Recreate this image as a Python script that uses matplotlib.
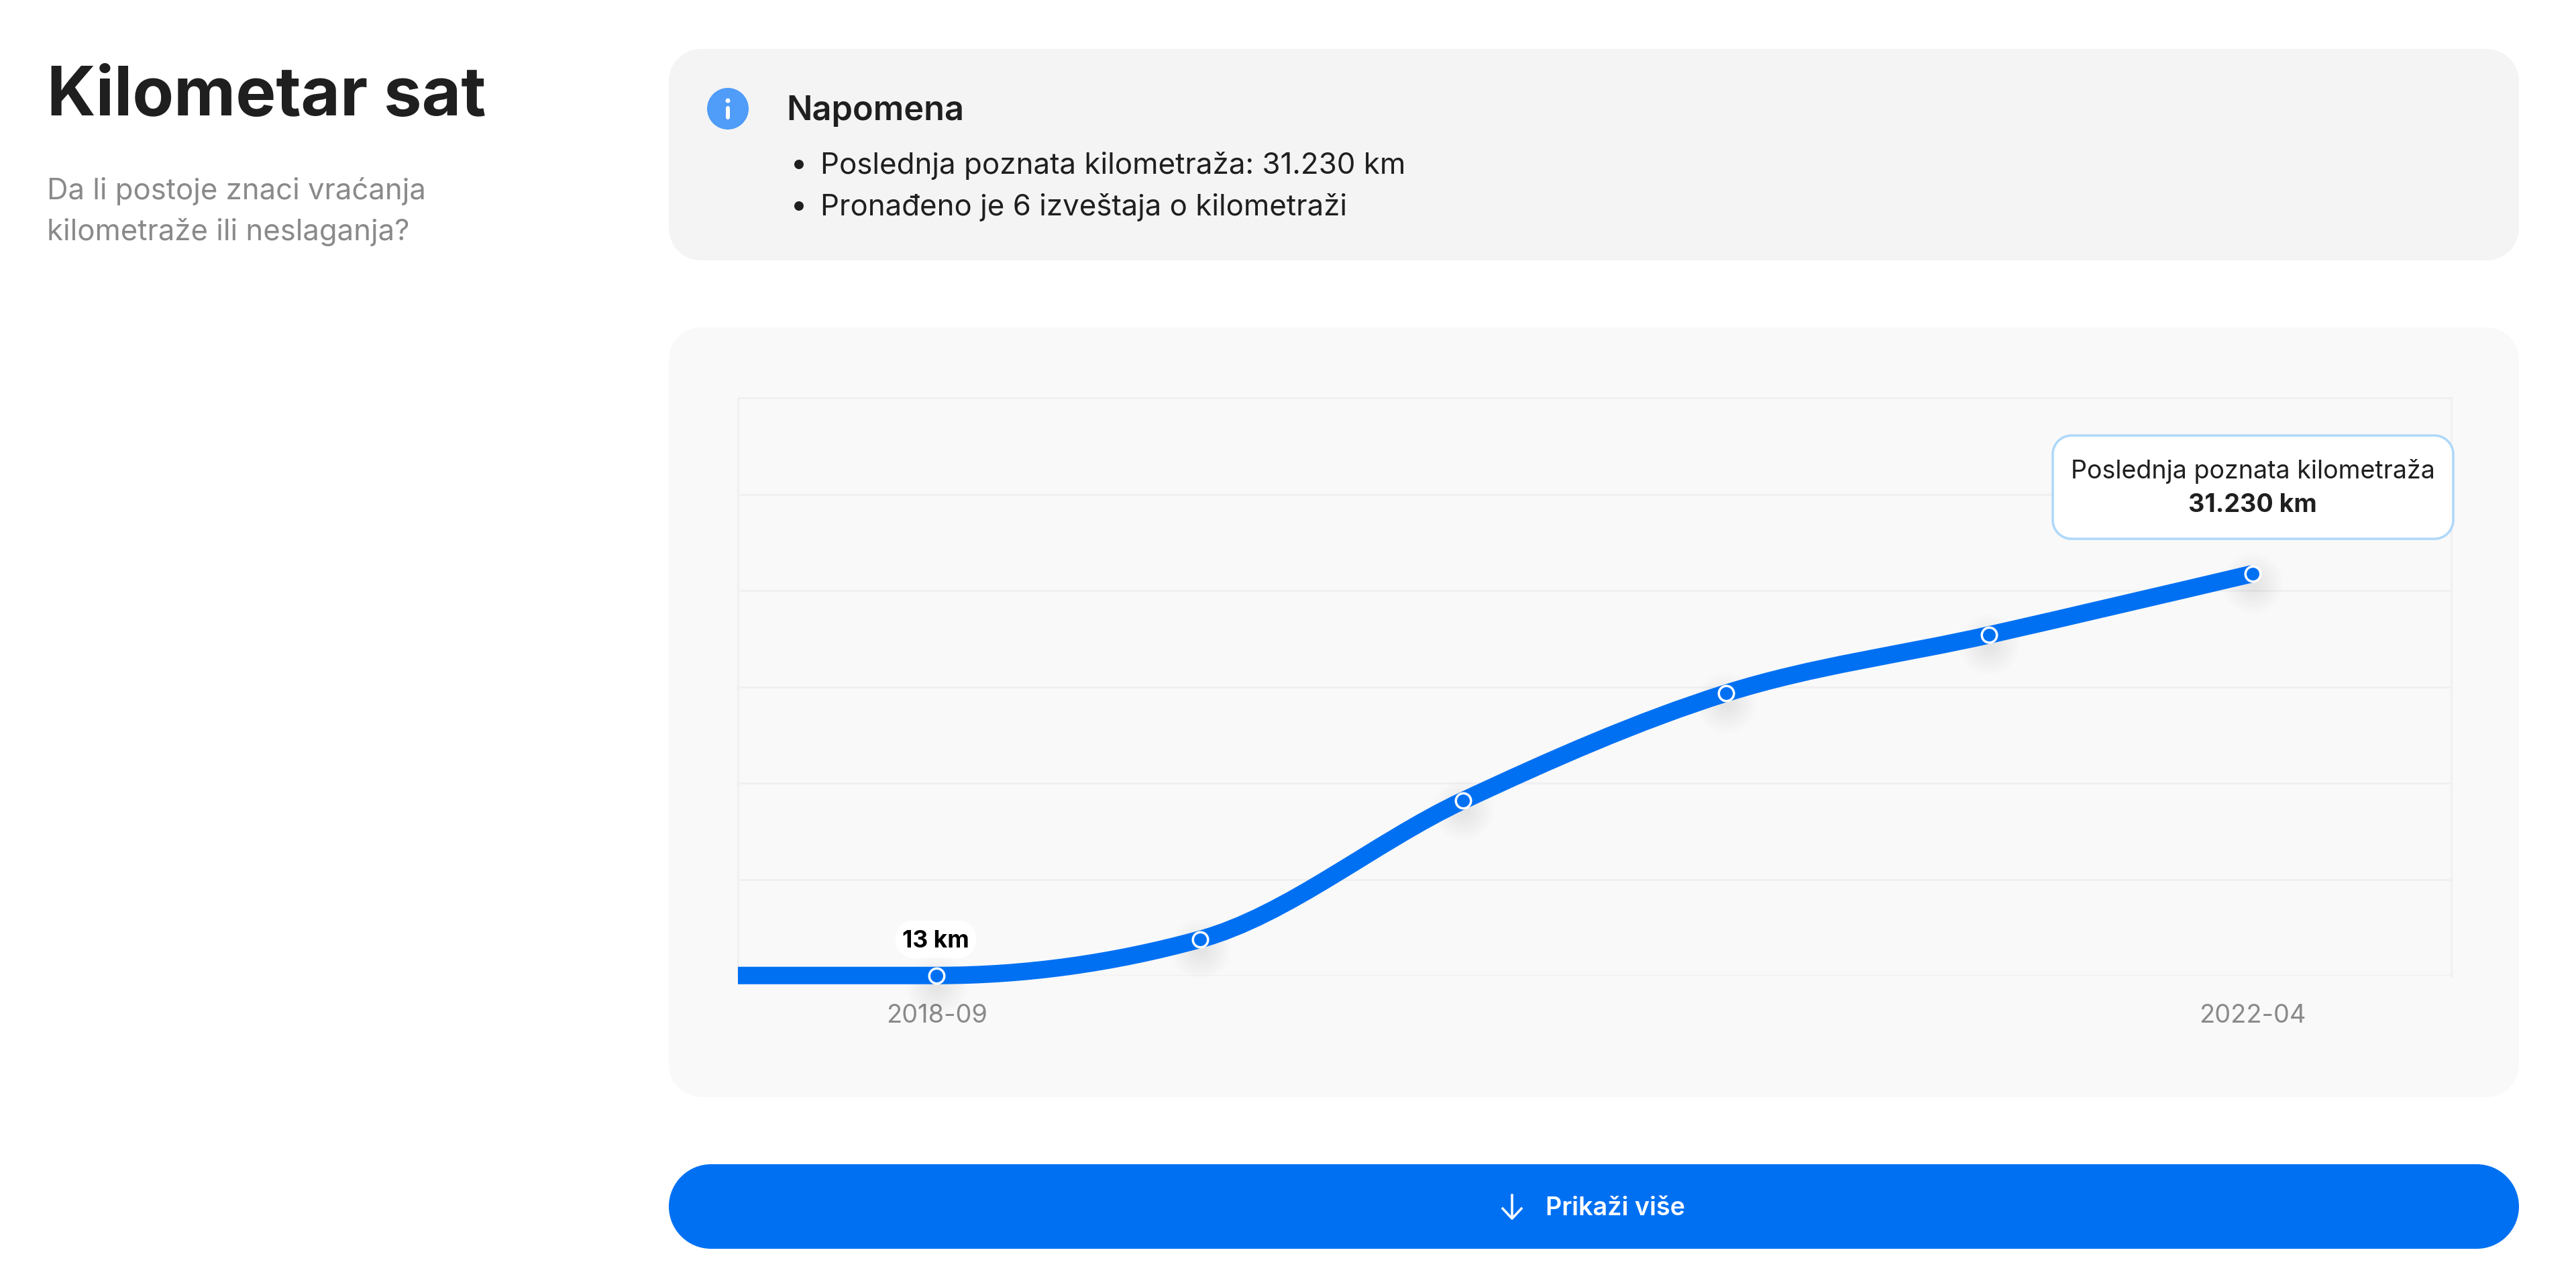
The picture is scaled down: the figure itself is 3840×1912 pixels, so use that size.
import numpy as np
import matplotlib
matplotlib.use('Agg')
import matplotlib.pyplot as plt
from matplotlib.patches import Circle, PathPatch
from matplotlib.path import Path
from matplotlib.transforms import ScaledTranslation

plt.rcParams['font.family'] = ['Inter', 'DejaVu Sans']

# data
positions = [0, 1, 2, 3, 4, 5]
km_values = [13, 2815, 13600, 21950, 26480, 31230]
tick_positions = [0, 5]
tick_labels = ['2018-09', '2022-04']
first_label = '13 km'
tooltip_title = 'Poslednja poznata kilometraža'
tooltip_value = '31.230 km'
y_max = 44890
grid_count = 6

BLUE = '#0070F3'
DARK = '#1F1F1F'
GREY = '#8A8A8A'
W, H = 3840, 1912
DPI = 100


def px(v):
    # pixels to points
    return v * 72 / DPI


def box(axis, x0, y0, x1, y1, r, fc, ec='none', lw=0, z=1):
    # rounded rectangle with real circular corners
    k = r * 0.4477
    verts = [(x0 + r, y0), (x1 - r, y0),
             (x1 - k, y0), (x1, y0 + k), (x1, y0 + r),
             (x1, y1 - r),
             (x1, y1 - k), (x1 - k, y1), (x1 - r, y1),
             (x0 + r, y1),
             (x0 + k, y1), (x0, y1 - k), (x0, y1 - r),
             (x0, y0 + r),
             (x0, y0 + k), (x0 + k, y0), (x0 + r, y0),
             (x0 + r, y0)]
    codes = [Path.MOVETO, Path.LINETO,
             Path.CURVE4, Path.CURVE4, Path.CURVE4,
             Path.LINETO,
             Path.CURVE4, Path.CURVE4, Path.CURVE4,
             Path.LINETO,
             Path.CURVE4, Path.CURVE4, Path.CURVE4,
             Path.LINETO,
             Path.CURVE4, Path.CURVE4, Path.CURVE4,
             Path.CLOSEPOLY]
    axis.add_patch(PathPatch(Path(verts, codes), fc=fc, ec=ec, lw=lw, zorder=z))


def monotone_path(xs, ys):
    # same tangents as d3 curveMonotoneX
    xs = np.array(xs, dtype=float)
    ys = np.array(ys, dtype=float)
    h = np.diff(xs)
    s = np.diff(ys) / h
    t = np.zeros(len(xs))
    for i in range(1, len(xs) - 1):
        p = (s[i - 1] * h[i] + s[i] * h[i - 1]) / (h[i - 1] + h[i])
        t[i] = (np.sign(s[i - 1]) + np.sign(s[i])) * min(abs(s[i - 1]), abs(s[i]), 0.5 * abs(p))
    t[-1] = (3 * s[-1] - t[-2]) / 2
    verts = [(xs[0], ys[0])]
    codes = [Path.MOVETO]
    for i in range(len(xs) - 1):
        d = h[i] / 3
        verts += [(xs[i] + d, ys[i] + d * t[i]), (xs[i + 1] - d, ys[i + 1] - d * t[i + 1]), (xs[i + 1], ys[i + 1])]
        codes += [Path.CURVE4] * 3
    return Path(verts, codes)


fig = plt.figure(figsize=(W / DPI, H / DPI), dpi=DPI, facecolor='white')

# page layer in pixel coordinates
page = fig.add_axes([0, 0, 1, 1])
page.set_xlim(0, W)
page.set_ylim(H, 0)
page.axis('off')

page.text(70, 172, 'Kilometar sat', fontsize=px(101), fontweight='bold', color=DARK, va='baseline')
page.text(70, 297, 'Da li postoje znaci vraćanja', fontsize=px(43.7), color=GREY, va='baseline')
page.text(70, 358, 'kilometraže ili neslaganja?', fontsize=px(43.7), color=GREY, va='baseline')

box(page, 997, 73, 3755, 388, 48, '#F4F4F4')
box(page, 997, 488, 3755, 1635, 48, '#F9F9F9')
box(page, 997, 1735, 3755, 1861, 63, BLUE)

page.add_patch(Circle((1085, 162), 31, fc='#4F9CF9', ec='none', zorder=2))
page.add_patch(Circle((1085, 150), 3.5, fc='white', ec='none', zorder=3))
page.plot([1085, 1085], [161, 175], color='white', lw=px(6), solid_capstyle='round', zorder=3)

page.text(1172, 179, 'Napomena', fontsize=px(50.5), fontweight='semibold', color=DARK, va='baseline')
page.add_patch(Circle((1191, 245), 7, fc=DARK, ec='none', zorder=2))
page.add_patch(Circle((1191, 307), 7, fc=DARK, ec='none', zorder=2))
page.text(1223, 259, 'Poslednja poznata kilometraža: 31.230 km', fontsize=px(43.9), color=DARK, va='baseline')
page.text(1223, 321, 'Pronađeno je 6 izveštaja o kilometraži', fontsize=px(43.8), color=DARK, va='baseline')

page.plot([2254, 2254], [1781, 1814], color='white', lw=px(3.5), zorder=3)
page.plot([2240, 2254, 2268], [1801, 1816, 1801], color='white', lw=px(3.5), zorder=3)
page.text(2304, 1811, 'Prikaži više', fontsize=px(37.7), fontweight='semibold', color='white', va='baseline', zorder=3)

# chart axes
left, right, top, bottom = 1100, 3654, 593, 1454
ax = fig.add_axes([left / W, 1 - bottom / H, (right - left) / W, (bottom - top) / H])
ax.patch.set_alpha(0)
x_lo = -0.755
x_hi = 5.755
ax.set_xlim(x_lo, x_hi)
ax.set_ylim(0, y_max)
ax.set_yticks(np.linspace(0, y_max, grid_count + 1))
ax.set_yticklabels([])
ax.set_xticks(tick_positions)
ax.set_xticklabels(tick_labels, fontsize=px(38), color=GREY)
ax.tick_params(axis='both', length=0)
ax.tick_params(axis='x', pad=px(42))
ax.grid(axis='y', color='#F0F0F0', lw=px(3))
ax.set_axisbelow(True)
for side in ['left', 'right', 'top']:
    ax.spines[side].set_color('#F0F0F0')
    ax.spines[side].set_linewidth(px(3))
ax.spines['bottom'].set_visible(False)

# soft shadow under the points
shadow_shift = ax.transData + ScaledTranslation(0, -14 / DPI, fig.dpi_scale_trans)
for r in range(46, 6, -2):
    ax.scatter(positions, km_values, s=(2 * px(r)) ** 2, color='black', alpha=0.004, lw=0,
               transform=shadow_shift, zorder=3, clip_on=False)

curve = monotone_path([x_lo] + positions, [km_values[0]] + km_values)
ax.add_patch(PathPatch(curve, fc='none', ec=BLUE, lw=px(26), capstyle='butt', zorder=4, clip_on=False))
ax.scatter(positions, km_values, s=px(22.5) ** 2, color=BLUE, edgecolors='white', linewidths=px(3.5),
           zorder=5, clip_on=False)

# label over the first point, tooltip over the last one
box(page, 1335, 1372, 1455, 1428, 26, 'white', z=2)
page.text(1395, 1412, first_label, fontsize=px(35.5), fontweight='bold', color='black', ha='center', va='baseline', zorder=3)

tip = fig.add_axes([0, 0, 1, 1], zorder=5)
tip.set_xlim(0, W)
tip.set_ylim(H, 0)
tip.axis('off')
box(tip, 3060, 649, 3657, 803, 28, 'white', ec='#ADD8FB', lw=px(3.5), z=2)
tip.text(3358, 713, tooltip_title, fontsize=px(37.6), color=DARK, ha='center', va='baseline', zorder=3)
tip.text(3358, 763, tooltip_value, fontsize=px(37.6), fontweight='bold', color=DARK, ha='center', va='baseline', zorder=3)

fig.savefig('out.png', dpi=DPI)
